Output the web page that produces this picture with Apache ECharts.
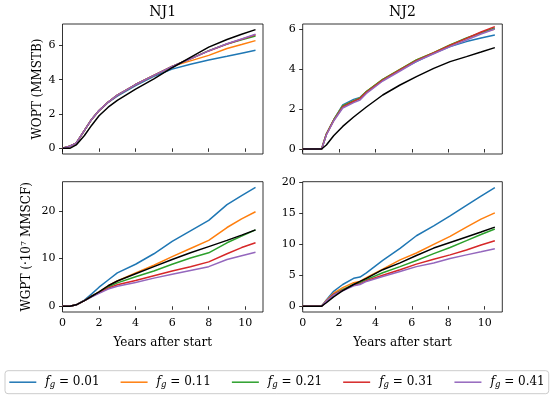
<!DOCTYPE html>
<html><head><meta charset="utf-8">
<script src="https://cdn.jsdelivr.net/npm/echarts@6/dist/echarts.min.js"></script>
<style>html,body{margin:0;padding:0;background:#fff}#c{width:550px;height:399px}</style>
</head><body><div id="c"></div>
<script>
// ---- data ----
const fgLabels = ['0.01', '0.11', '0.21', '0.31', '0.41'];
const colors = ['#1f77b4', '#ff7f0e', '#2ca02c', '#d62728', '#9467bd'];
const panelTitles = ['NJ1', 'NJ2'];
const xTicks = [0, 2, 4, 6, 8, 10];
const woptTicks1 = [0, 2, 4, 6];
const woptTicks2 = [0, 2, 4, 6];
const wgptTicks1 = [0, 10, 20];
const wgptTicks2 = [0, 5, 10, 15, 20];

const years1 = [0, 0.4, 0.75, 1.2, 1.6, 2, 2.5, 3, 4, 5, 6, 7, 8, 9, 9.8, 10.56];
const years2 = [0, 1.04, 1.3, 1.7, 2.2, 2.8, 3.15, 3.5, 4.4, 5.35, 6.25, 7.2, 8.1, 9.0, 9.8, 10.56];

// NJ1 WOPT (MMSTB)
const nj1Wopt001 = [0, 0.12, 0.3, 1.05, 1.7, 2.2, 2.68, 3.05, 3.66, 4.2, 4.62, 4.9, 5.15, 5.37, 5.55, 5.72];
const nj1Wopt011 = [0, 0.12, 0.3, 1.05, 1.7, 2.2, 2.7, 3.1, 3.72, 4.25, 4.78, 5.1, 5.42, 5.82, 6.05, 6.28];
const nj1Wopt021 = [0, 0.12, 0.3, 1.05, 1.7, 2.2, 2.7, 3.1, 3.72, 4.25, 4.78, 5.22, 5.7, 6.08, 6.33, 6.55];
const nj1Wopt031 = [0, 0.12, 0.3, 1.05, 1.7, 2.2, 2.7, 3.1, 3.72, 4.25, 4.78, 5.22, 5.68, 6.08, 6.36, 6.62];
const nj1Wopt041 = [0, 0.12, 0.3, 1.05, 1.7, 2.2, 2.7, 3.1, 3.72, 4.25, 4.78, 5.22, 5.68, 6.1, 6.38, 6.65];
const nj1WoptBase = [0, 0, 0.2, 0.75, 1.35, 1.9, 2.4, 2.8, 3.45, 4.05, 4.7, 5.3, 5.9, 6.35, 6.65, 6.92];

// NJ2 WOPT (MMSTB)
const nj2Wopt001 = [0, 0, 0.75, 1.45, 2.2, 2.48, 2.58, 2.87, 3.45, 3.95, 4.37, 4.78, 5.12, 5.37, 5.55, 5.7];
const nj2Wopt011 = [0, 0, 0.75, 1.45, 2.15, 2.4, 2.55, 2.87, 3.48, 3.98, 4.45, 4.82, 5.2, 5.53, 5.8, 6.0];
const nj2Wopt021 = [0, 0, 0.75, 1.45, 2.15, 2.4, 2.55, 2.87, 3.48, 3.98, 4.45, 4.82, 5.2, 5.55, 5.82, 6.05];
const nj2Wopt031 = [0, 0, 0.72, 1.42, 2.1, 2.38, 2.52, 2.83, 3.44, 3.95, 4.42, 4.8, 5.18, 5.53, 5.85, 6.12];
const nj2Wopt041 = [0, 0, 0.7, 1.4, 2.05, 2.32, 2.45, 2.78, 3.4, 3.9, 4.38, 4.76, 5.12, 5.45, 5.75, 6.0];
const nj2WoptBase = [0, 0, 0.2, 0.66, 1.13, 1.6, 1.85, 2.1, 2.7, 3.2, 3.62, 4.03, 4.37, 4.62, 4.85, 5.07];

// NJ1 WGPT (1e7 MMSCF)
const nj1Wgpt001 = [0, 0, 0.3, 1.3, 2.6, 4.0, 5.5, 7.0, 8.8, 11.0, 13.6, 15.8, 18.0, 21.3, 23.2, 24.9];
const nj1Wgpt011 = [0, 0, 0.3, 1.2, 2.1, 3.0, 4.3, 5.3, 7.0, 8.6, 10.4, 12.1, 13.8, 16.5, 18.3, 19.8];
const nj1Wgpt021 = [0, 0, 0.3, 1.2, 2.1, 2.9, 4.0, 4.9, 6.2, 7.4, 8.8, 10.1, 11.2, 13.3, 14.7, 16.0];
const nj1Wgpt031 = [0, 0, 0.3, 1.2, 2.1, 2.8, 3.8, 4.5, 5.4, 6.4, 7.4, 8.3, 9.3, 11.0, 12.3, 13.3];
const nj1Wgpt041 = [0, 0, 0.3, 1.2, 2.0, 2.7, 3.6, 4.2, 5.0, 5.9, 6.7, 7.5, 8.3, 9.8, 10.6, 11.3];
const nj1WgptBase = [0, 0, 0.3, 1.2, 2.1, 3.0, 4.3, 5.3, 6.8, 8.3, 9.8, 11.2, 12.5, 13.8, 14.9, 16.0];

// NJ2 WGPT (1e7 MMSCF)
const nj2Wgpt001 = [0, 0, 1.0, 2.4, 3.5, 4.5, 4.7, 5.4, 7.4, 9.35, 11.4, 13.0, 14.6, 16.3, 17.8, 19.2];
const nj2Wgpt011 = [0, 0, 0.9, 2.1, 3.0, 3.8, 4.0, 4.6, 6.0, 7.5, 8.6, 10.0, 11.3, 12.8, 14.1, 15.1];
const nj2Wgpt021 = [0, 0, 0.8, 1.9, 2.7, 3.5, 3.8, 4.3, 5.4, 6.4, 7.4, 8.5, 9.5, 10.6, 11.6, 12.5];
const nj2Wgpt031 = [0, 0, 0.8, 1.9, 2.6, 3.4, 3.6, 4.1, 5.0, 5.9, 6.8, 7.6, 8.3, 9.1, 9.9, 10.6];
const nj2Wgpt041 = [0, 0, 0.8, 1.8, 2.5, 3.3, 3.5, 4.0, 4.8, 5.6, 6.4, 7.0, 7.7, 8.3, 8.8, 9.3];
const nj2WgptBase = [0, 0, 0.55, 1.5, 2.5, 3.5, 4.0, 4.5, 5.9, 7.0, 8.2, 9.4, 10.3, 11.2, 12.0, 12.8];

// ---- layout ----
const serif = 'DejaVu Serif';
const panels = [
  {years: years1, lines: [nj1Wopt001, nj1Wopt011, nj1Wopt021, nj1Wopt031, nj1Wopt041], base: nj1WoptBase,
   grid: {left: 62.5, top: 24, width: 200.5, height: 130}, y: [-0.33, 7.25], ticks: woptTicks1, bottom: false,
   yname: 'WOPT (MMSTB)', gap: 19},
  {years: years2, lines: [nj2Wopt001, nj2Wopt011, nj2Wopt021, nj2Wopt031, nj2Wopt041], base: nj2WoptBase,
   grid: {left: 302.7, top: 24, width: 199.6, height: 130}, y: [-0.25, 6.25], ticks: woptTicks2, bottom: false},
  {years: years1, lines: [nj1Wgpt001, nj1Wgpt011, nj1Wgpt021, nj1Wgpt031, nj1Wgpt041], base: nj1WgptBase,
   grid: {left: 62.5, top: 181.7, width: 200.5, height: 130.3}, y: [-1.2, 26.1], ticks: wgptTicks1, bottom: true,
   yname: 'WGPT (·10{sup|7} MMSCF)', gap: 29},
  {years: years2, lines: [nj2Wgpt001, nj2Wgpt011, nj2Wgpt021, nj2Wgpt031, nj2Wgpt041], base: nj2WgptBase,
   grid: {left: 302.7, top: 181.7, width: 199.6, height: 130.3}, y: [-0.95, 20.15], ticks: wgptTicks2, bottom: true}
];

const grids = [], xAxes = [], yAxes = [], series = [];
panels.forEach((p, i) => {
  grids.push(Object.assign({show: true, borderColor: '#000', borderWidth: 0.8, backgroundColor: 'transparent'}, p.grid));
  xAxes.push({
    type: 'value', gridIndex: i, min: 0, max: 10.97,
    axisLine: {show: false},
    axisTick: {show: true, inside: false, length: 3.5, lineStyle: {color: '#000', width: 0.8}, customValues: xTicks},
    axisLabel: {show: p.bottom, customValues: xTicks, margin: 6, color: '#000', fontFamily: serif, fontSize: 11},
    splitLine: {show: false},
    name: p.bottom ? 'Years after start' : '', nameLocation: 'middle', nameGap: 25,
    nameTextStyle: {color: '#000', fontFamily: serif, fontSize: 12}
  });
  yAxes.push({
    type: 'value', gridIndex: i, min: p.y[0], max: p.y[1],
    axisLine: {show: false},
    axisTick: {show: true, inside: false, length: 3.5, lineStyle: {color: '#000', width: 0.8}, customValues: p.ticks},
    axisLabel: {customValues: p.ticks, margin: 7, color: '#000', fontFamily: serif, fontSize: 11},
    splitLine: {show: false},
    name: p.yname || '', nameLocation: 'middle', nameGap: p.gap || 20, nameRotate: 90,
    nameTextStyle: {color: '#000', fontFamily: serif, fontSize: 12,
      rich: {sup: {fontFamily: serif, fontSize: 8, verticalAlign: 'top', padding: [0, 0, 6, 0], color: '#000'}}}
  });
  p.lines.forEach((arr, k) => {
    series.push({
      type: 'line', name: fgLabels[k], xAxisIndex: i, yAxisIndex: i,
      data: p.years.map((x, j) => [x, arr[j]]),
      showSymbol: false, symbol: 'none', smooth: false,
      lineStyle: {color: colors[k], width: 1.5}, itemStyle: {color: colors[k]},
      animation: false, z: 2 + k
    });
  });
  series.push({
    type: 'line', name: 'base', xAxisIndex: i, yAxisIndex: i,
    data: p.years.map((x, j) => [x, p.base[j]]),
    showSymbol: false, symbol: 'none',
    lineStyle: {color: '#000', width: 1.5}, itemStyle: {color: '#000'},
    animation: false, z: 10
  });
});

const chart = echarts.init(document.getElementById('c'), null, {renderer: 'canvas'});
chart.setOption({
  backgroundColor: '#fff',
  animation: false,
  grid: grids, xAxis: xAxes, yAxis: yAxes, series: series,
  graphic: [
    {type: 'text', x: 162.75, y: 12.5, style: {text: panelTitles[0], textAlign: 'center', textVerticalAlign: 'middle', font: '14px "DejaVu Serif"', fill: '#000'}},
    {type: 'text', x: 402.5, y: 12.5, style: {text: panelTitles[1], textAlign: 'center', textVerticalAlign: 'middle', font: '14px "DejaVu Serif"', fill: '#000'}}
  ],
  legend: {
    data: fgLabels, left: 5, top: 370.7, orient: 'horizontal', width: 545,
    padding: [4.5, 4, 4.5, 4.3], itemWidth: 27, itemHeight: 1.5, icon: 'rect', itemGap: 21,
    borderColor: '#cccccc', borderWidth: 1, borderRadius: 3, backgroundColor: '#fff',
    selectedMode: false,
    formatter: name => '{sp|}{f|f}{g|g}{t| = ' + name + '}',
    textStyle: {
      color: '#000', fontFamily: serif, fontSize: 12, lineHeight: 14,
      rich: {
        sp: {width: 4},
        f: {fontFamily: serif, fontStyle: 'italic', fontSize: 12, color: '#000'},
        g: {fontFamily: serif, fontStyle: 'italic', fontSize: 8.5, color: '#000', verticalAlign: 'bottom', padding: [4, 0, 0, 0]},
        t: {fontFamily: serif, fontSize: 12, color: '#000', width: 41}
      }
    }
  }
});
</script></body></html>
